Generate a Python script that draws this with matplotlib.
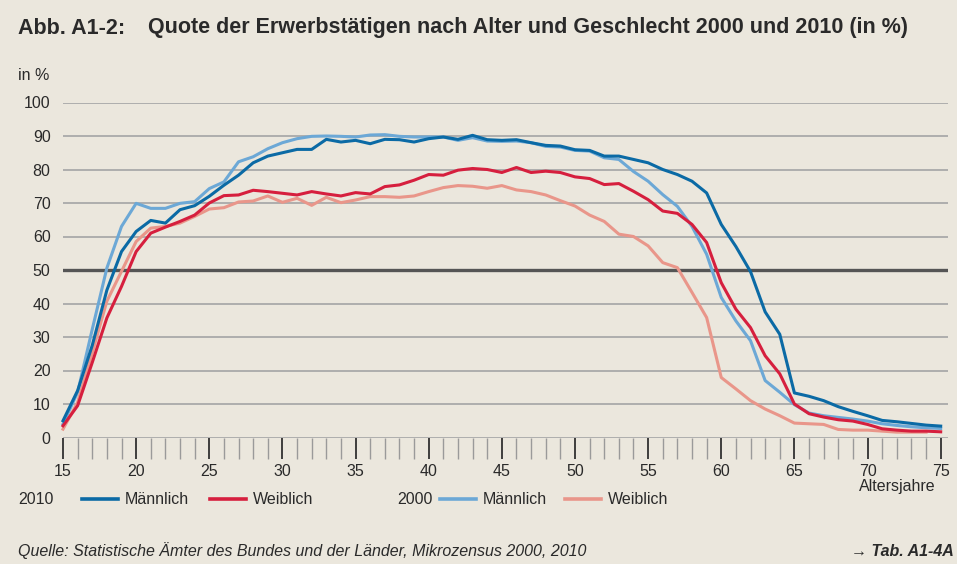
import matplotlib
matplotlib.use('Agg')
import matplotlib.pyplot as plt
from matplotlib.lines import Line2D
import numpy as np

plt.rcParams['font.family'] = ['Liberation Sans', 'DejaVu Sans']

# Data (Erwerbstätigenquote in %)
ages = np.arange(15, 76)
ages_2000w = np.arange(15, 75)

m2010 = [5.0, 14, 27.5, 44, 55.5, 61.5, 64.8, 64, 68, 69.2,
         72, 75.3, 78.3, 82, 84, 85, 86, 86, 89, 88.2,
         88.7, 87.7, 89, 88.9, 88.2, 89.2, 89.7, 89, 90.2, 88.9,
         88.7, 88.9, 88, 87.2, 87, 85.9, 85.7, 84, 84, 83,
         82, 80, 78.5, 76.5, 73, 63.6, 57, 49.5, 37.5, 30.8,
         13.3, 12.3, 11, 9.2, 7.8, 6.5, 5.1, 4.7, 4.2, 3.7, 3.4]
w2010 = [3.5, 9.5, 22.4, 35.7, 45.1, 55.5, 61, 62.8, 64.5, 66.4,
         70, 72.2, 72.4, 73.8, 73.4, 72.9, 72.4, 73.4, 72.7, 72.1,
         73.1, 72.7, 74.9, 75.4, 76.8, 78.5, 78.3, 79.8, 80.3, 80,
         79.1, 80.6, 79.1, 79.5, 79.1, 77.8, 77.3, 75.5, 75.8, 73.5,
         71, 67.6, 66.9, 63.6, 58.2, 46.2, 38.3, 32.8, 24.4, 19,
         10.0, 7.1, 6.1, 5.3, 4.9, 3.9, 2.6, 2.2, 1.9, 1.9, 1.7]
m2000 = [4, 13.5, 32.3, 50.6, 63, 69.9, 68.4, 68.4, 69.9, 70.4,
         74.3, 76.3, 82.3, 83.8, 86.2, 88, 89.2, 89.9, 90, 89.9,
         89.7, 90.3, 90.4, 89.9, 89.7, 89.7, 89.7, 88.7, 89.5, 88.5,
         88.4, 88.5, 88, 86.9, 86.7, 85.7, 85.5, 83.5, 83, 79.4,
         76.5, 72.5, 69, 63, 54.7, 41.8, 34.8, 28.9, 17, 13.5,
         9.8, 7.3, 6.5, 6, 5.5, 4.9, 4.1, 3.6, 3.2, 2.9, 2.7]
w2000 = [2.5, 10.5, 25.3, 40.7, 49.6, 58.5, 62.5, 63, 64, 66,
         68.2, 68.6, 70.3, 70.6, 72.1, 70.2, 71.4, 69.3, 71.7, 70.1,
         70.9, 71.9, 71.9, 71.7, 72.1, 73.4, 74.6, 75.2, 75, 74.4,
         75.2, 73.9, 73.4, 72.4, 70.7, 69.1, 66.4, 64.5, 60.7, 60,
         57.2, 52.2, 50.7, 43.3, 35.8, 17.9, 14.5, 11, 8.5, 6.5,
         4.3, 4.1, 3.9, 2.4, 2.2, 2.2, 1.9, 1.6, 1.6, 1.6]

bg = '#ebe7dd'
c_m2010 = '#0b6aa5'
c_w2010 = '#d61f3e'
c_m2000 = '#6ca8d6'
c_w2000 = '#e9968a'
txt = '#2a2a2a'

fig = plt.figure(figsize=(9.57, 5.64), dpi=100, facecolor=bg)
ax = fig.add_axes([63 / 957, 1 - 437.5 / 564, 885 / 957, 335 / 564])
ax.set_facecolor(bg)

# grid
for v in range(0, 101, 10):
    if v == 50:
        ax.axhline(v, color='#555555', lw=2.4, zorder=1)
    else:
        ax.axhline(v, color='#a9a9a9', lw=1.3, zorder=1)

lw = 2.2
ax.plot(ages, m2000, color=c_m2000, lw=lw, zorder=2, clip_on=False)
ax.plot(ages_2000w, w2000, color=c_w2000, lw=lw, zorder=2, clip_on=False)
ax.plot(ages, w2010, color=c_w2010, lw=lw, zorder=3, clip_on=False)
ax.plot(ages, m2010, color=c_m2010, lw=lw, zorder=3, clip_on=False)

ax.set_xlim(15, 75.5)
ax.set_ylim(0, 100)
for s in ax.spines.values():
    s.set_visible(False)

ax.set_yticks(range(0, 101, 10))
ax.tick_params(axis='y', length=0, pad=9, labelsize=11.5, labelcolor=txt)
ax.set_xticks(range(15, 76, 5))
ax.set_xticks(range(15, 76), minor=True)
ax.tick_params(axis='x', which='major', length=15, width=1.2, color='#222222',
               pad=4, labelsize=11.5, labelcolor=txt)
ax.tick_params(axis='x', which='minor', length=15, width=1.0, color='#9a9a9a')

# titles and labels
fig.text(18 / 957, 1 - 28 / 564, 'Abb. A1-2:', fontsize=15.5, fontweight='bold',
         color=txt, va='center', ha='left')
fig.text(148 / 957, 1 - 28 / 564,
         'Quote der Erwerbstätigen nach Alter und Geschlecht 2000 und 2010 (in %)',
         fontsize=15.5, fontweight='bold', color=txt, va='center', ha='left')
fig.text(18 / 957, 1 - 75 / 564, 'in %', fontsize=11.5, color=txt, va='center')
fig.text(936 / 957, 1 - 487 / 564, 'Altersjahre', fontsize=11.5, color=txt,
         va='center', ha='right')

# legend
ly = 1 - 499 / 564
fig.text(18 / 957, ly, '2010', fontsize=11.5, color=txt, va='center')
fig.text(397 / 957, ly, '2000', fontsize=11.5, color=txt, va='center')
legend_items = [(82, c_m2010, 'Männlich'), (210, c_w2010, 'Weiblich'),
                (440, c_m2000, 'Männlich'), (565, c_w2000, 'Weiblich')]
for x0, col, lab in legend_items:
    fig.add_artist(Line2D([x0 / 957, (x0 + 36) / 957], [ly, ly], color=col,
                          lw=2.6, transform=fig.transFigure))
    fig.text((x0 + 43) / 957, ly, lab, fontsize=11.5, color=txt, va='center')

# footer
fy = 1 - 551 / 564
fig.text(18 / 957, fy,
         'Quelle: Statistische Ämter des Bundes und der Länder, Mikrozensus 2000, 2010',
         fontsize=11.5, style='italic', color=txt, va='center')
fig.text(954 / 957, fy, '→ Tab. A1-4A', fontsize=11.5, style='italic',
         fontweight='bold', color=txt, va='center', ha='right')

fig.savefig('out.png', dpi=100, facecolor=bg)
